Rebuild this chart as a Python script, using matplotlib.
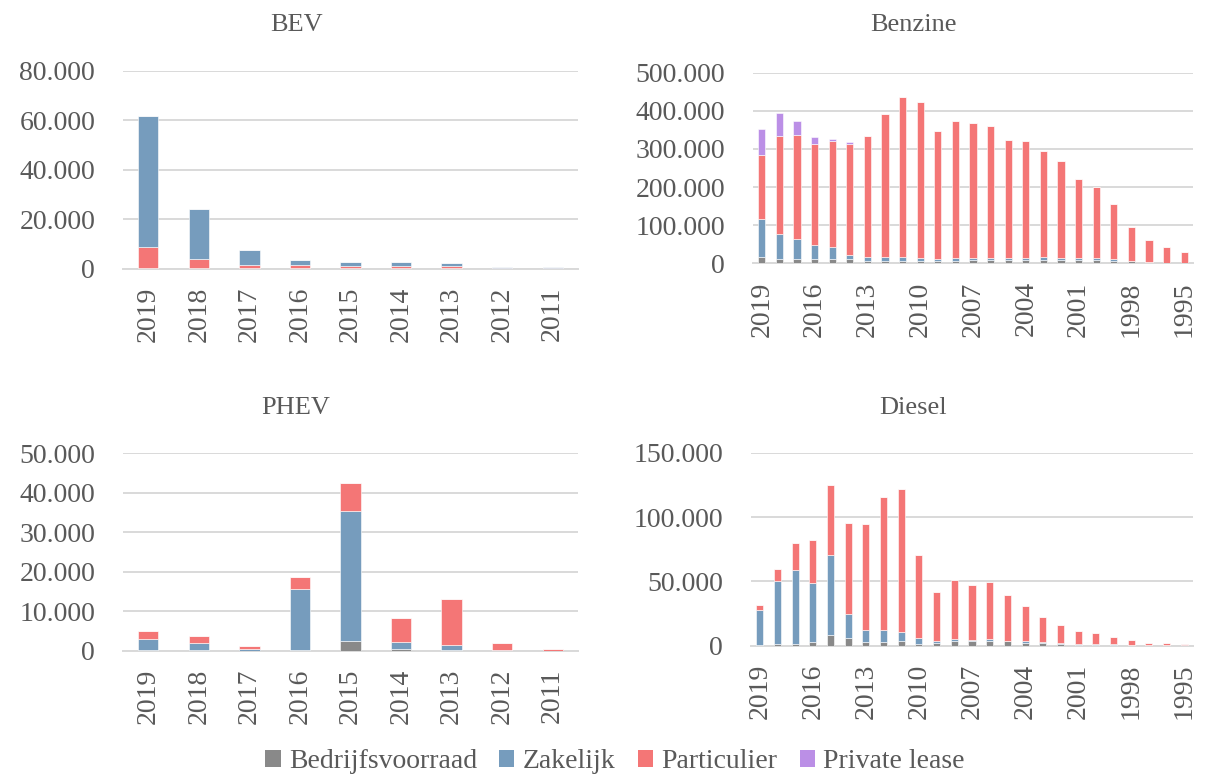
import matplotlib
matplotlib.use('Agg')
import matplotlib.pyplot as plt
from matplotlib.ticker import FuncFormatter, MultipleLocator
from matplotlib.patches import Patch

plt.rcParams['font.family'] = ['Liberation Serif', 'DejaVu Serif']

series = ['Bedrijfsvoorraad', 'Zakelijk', 'Particulier', 'Private lease']
colors = ['#898989', '#769CBD', '#F47676', '#BB8FE6']

years_short = ['2019', '2018', '2017', '2016', '2015', '2014', '2013', '2012', '2011']
years_long = [str(y) for y in range(2019, 1994, -1)]

# BEV
bev_bedrijf = [400, 300, 200, 200, 100, 100, 100, 50, 50]
bev_zakelijk = [53000, 20300, 6000, 2300, 1500, 1600, 1100, 350, 350]
bev_particulier = [8200, 3500, 1400, 1200, 1100, 1100, 1100, 300, 300]
bev_private = [0, 0, 0, 0, 0, 0, 0, 0, 0]

# PHEV
phev_bedrijf = [200, 200, 100, 300, 2600, 600, 200, 100, 100]
phev_zakelijk = [2900, 1700, 300, 15400, 32900, 1700, 1300, 50, 0]
phev_particulier = [2000, 1900, 900, 2900, 6900, 6100, 11700, 1800, 300]
phev_private = [0, 0, 0, 0, 0, 0, 0, 0, 0]

# Benzine
benz_bedrijf = [16000, 10000, 10000, 10000, 10000, 10000, 6000, 6000, 6000, 6000,
                5000, 7000, 9000, 9000, 9000, 9000, 9000, 9000, 9000, 9000,
                7000, 5000, 3000, 1000, 1000]
benz_zakelijk = [101000, 68000, 55000, 39000, 32000, 13000, 10000, 10000, 10000, 7000,
                 5000, 6000, 5000, 4000, 4000, 6000, 7000, 6000, 6000, 4000,
                 3000, 2000, 1000, 1000, 0]
benz_particulier = [168000, 257000, 272000, 265000, 279000, 291000, 318000, 376000, 421000, 409000,
                    337000, 361000, 353000, 347000, 311000, 305000, 279000, 254000, 207000, 188000,
                    146000, 88000, 57000, 41000, 28000]
benz_private = [67000, 60000, 36000, 17000, 4000, 4000, 0, 0, 0, 0,
                0, 0, 0, 0, 0, 0, 0, 0, 0, 0,
                0, 0, 0, 0, 0]

# Diesel
dies_bedrijf = [500, 1300, 1600, 3000, 8000, 5700, 3000, 3000, 4000, 1500,
                2300, 3400, 3900, 3400, 3400, 2300, 2300, 1000, 800, 700,
                500, 300, 200, 200, 100]
dies_zakelijk = [27500, 48700, 57400, 46000, 62400, 18700, 9500, 9500, 6600, 4200,
                 1600, 1500, 500, 1500, 500, 1600, 800, 1100, 800, 700,
                 500, 300, 200, 200, 100]
dies_particulier = [4000, 9700, 21000, 33000, 55000, 71000, 82000, 103000, 111000, 64700,
                    37600, 46300, 42900, 44500, 35600, 27000, 19200, 14300, 10100, 8200,
                    6000, 3600, 1700, 1700, 1400]
dies_private = [0] * 25

text_col = '#595959'
grid_col = '#D9D9D9'
W, H = 1206, 778
FS = 20

fig = plt.figure(figsize=(W / 100, H / 100), dpi=100)


def fmt(v, pos):
    return f'{int(round(v)):,}'.replace(',', '.')


def panel(left, right, top, bottom, ymax, ystep, years, data, order, step=1):
    ax = fig.add_axes([left / W, 1 - bottom / H, (right - left) / W, (bottom - top) / H])
    x = list(range(len(years)))
    base = [0] * len(years)
    for i in order:
        vals = data[i]
        ax.bar(x, vals, width=0.4, bottom=base, color=colors[i], edgecolor='white',
               linewidth=0.4, zorder=3)
        base = [b + v for b, v in zip(base, vals)]
    ax.set_xlim(-0.5, len(years) - 0.5)
    ax.set_ylim(0, ymax)
    ax.yaxis.set_major_locator(MultipleLocator(ystep))
    ax.yaxis.set_major_formatter(FuncFormatter(fmt))
    ax.set_xticks(x[::step])
    ax.set_xticklabels(years[::step], rotation=90)
    ax.grid(axis='y', color=grid_col, linewidth=1.4, zorder=0)
    for s in ['top', 'right', 'left']:
        ax.spines[s].set_visible(False)
    ax.spines['bottom'].set_color(grid_col)
    ax.spines['bottom'].set_linewidth(1.4)
    ax.tick_params(axis='both', length=0, labelsize=FS, colors=text_col)
    ax.tick_params(axis='y', pad=20)
    ax.tick_params(axis='x', pad=13)
    return ax


panel(123, 578, 70.7, 268.7, 80000, 20000, years_short,
      [bev_bedrijf, bev_zakelijk, bev_particulier, bev_private], order=[0, 2, 1, 3])
panel(753, 1193, 72.6, 263.3, 500000, 100000, years_long,
      [benz_bedrijf, benz_zakelijk, benz_particulier, benz_private], order=[0, 1, 2, 3], step=3)
panel(123, 578, 453.3, 651, 50000, 10000, years_short,
      [phev_bedrijf, phev_zakelijk, phev_particulier, phev_private], order=[0, 1, 2, 3])
panel(751, 1193, 453, 645.7, 150000, 50000, years_long,
      [dies_bedrijf, dies_zakelijk, dies_particulier, dies_private], order=[0, 1, 2, 3], step=3)

for tx, ty, t in [(297, 25, 'BEV'), (913, 25, 'Benzine'), (296, 408, 'PHEV'), (913, 408, 'Diesel')]:
    fig.text(tx / W, 1 - ty / H, t, ha='center', va='center', fontsize=19, color=text_col)

handles = [Patch(facecolor=c, edgecolor='none') for c in colors]
fig.legend(handles, series, loc='center', bbox_to_anchor=(615 / W, 1 - 762 / H), ncol=4,
           frameon=False, fontsize=FS, handlelength=0.55, handleheight=0.55,
           handletextpad=0.3, columnspacing=0.8, labelcolor=text_col,
           borderpad=0, borderaxespad=0)

fig.savefig('out.png', dpi=100)
